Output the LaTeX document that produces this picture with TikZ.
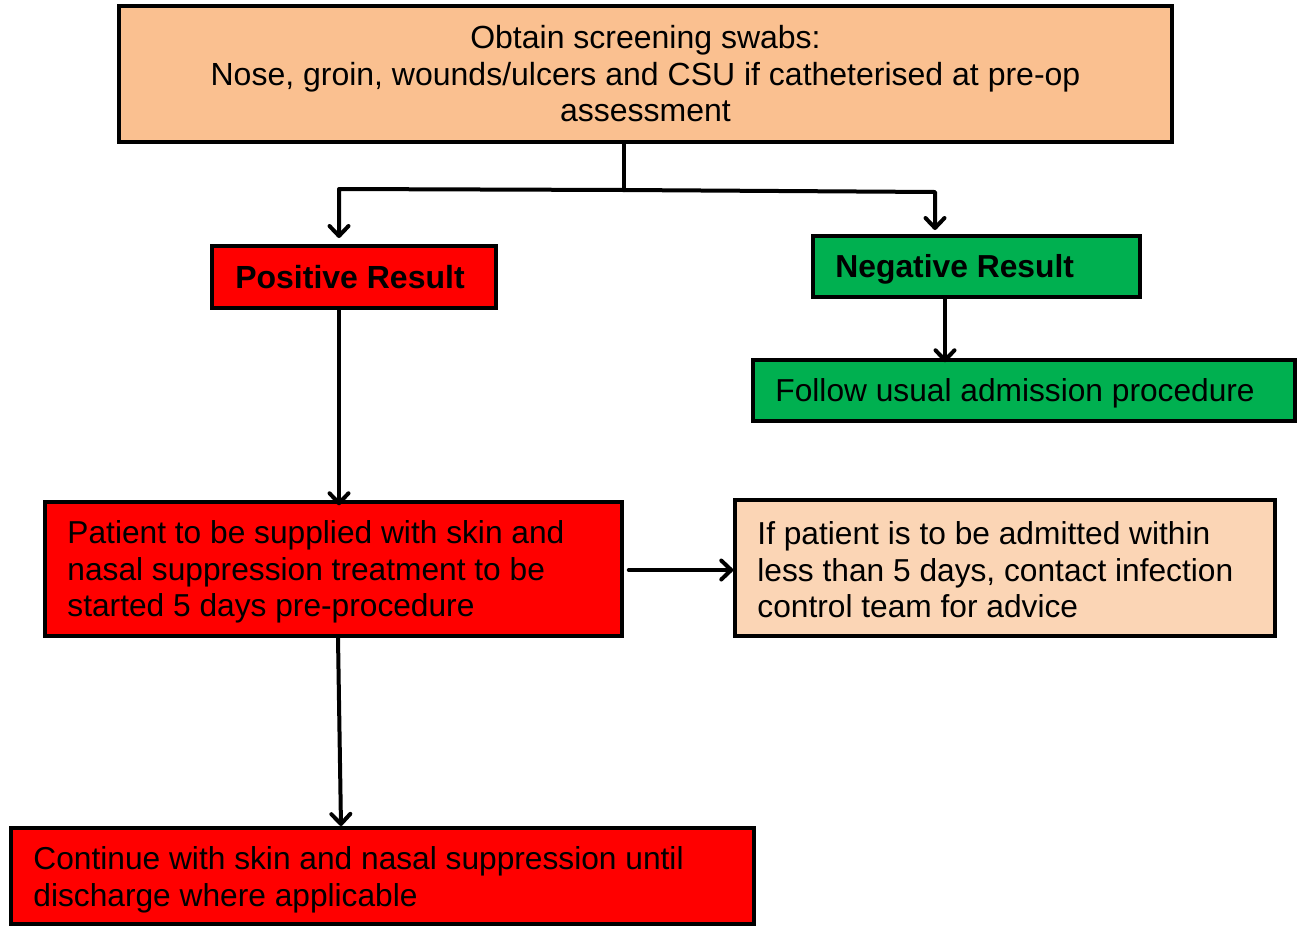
\documentclass[tikz,border=0pt]{standalone}
\usepackage{fontspec}
\setmainfont{Liberation Sans}
\usetikzlibrary{arrows.meta}
\definecolor{topfill}{RGB}{250,192,144}
\definecolor{peach}{RGB}{251,213,181}
\definecolor{boxred}{RGB}{255,0,0}
\definecolor{boxgreen}{RGB}{0,176,80}
\begin{document}
\begin{tikzpicture}[x=1pt,y=-1pt,
  box/.style={draw=black, line width=3.5pt, inner ysep=0pt, font=\fontsize{32}{36.5}\selectfont},
  txt/.style={anchor=west, align=left, inner sep=0pt, font=\fontsize{31.7}{36.5}\selectfont},
  conn/.style={line width=4pt, line cap=round, line join=round},
  arr/.style={conn, -{Straight Barb[length=10pt,width=19pt,line cap=round,line join=round]}}]
\useasboundingbox (0,0) rectangle (1299,927);
% boxes
\node[box, fill=topfill, align=center, minimum width=1053pt, minimum height=136pt] (top) at (645.5,74)
  {Obtain screening swabs:\\Nose, groin, wounds/ulcers and CSU if catheterised at pre-op\\assessment};
\node[box, fill=boxred, minimum width=284pt, minimum height=62pt, font=\fontsize{32}{36.5}\selectfont\bfseries] (pos) at (354,277) {\hspace*{-8pt}Positive Result};
\node[box, fill=boxgreen, minimum width=327pt, minimum height=61pt] (neg) at (976.5,266.5) {};
\node[txt, font=\fontsize{31.8}{36.5}\selectfont\bfseries] (negT) at ([xshift=24pt,yshift=-3pt]neg.west) {Negative Result};
\node[box, fill=boxgreen, minimum width=542pt, minimum height=61pt] (follow) at (1024,390.5) {};
\node[txt] (followT) at ([xshift=24pt,yshift=-3pt]follow.west) {Follow usual admission procedure};
\node[box, fill=boxred, minimum width=577pt, minimum height=134pt] (patient) at (333.5,569) {};
\node[txt] (patientT) at ([xshift=24pt,yshift=-3pt]patient.west)
  {Patient to be supplied with skin and\\nasal suppression treatment to be\\started 5 days pre-procedure};
\node[box, fill=peach, minimum width=540pt, minimum height=136pt] (ifp) at (1005,568) {};
\node[txt] (ifpT) at ([xshift=24pt,yshift=-2pt]ifp.west)
  {If patient is to be admitted within\\less than 5 days, contact infection\\control team for advice};
\node[box, fill=boxred, minimum width=743pt, minimum height=96pt] (cont) at (382.5,876) {};
\node[txt] (contT) at ([xshift=24pt,yshift=-4pt]cont.west)
  {Continue with skin and nasal suppression until\\discharge where applicable};
% connector coordinates
\coordinate (j) at (624,190);
\coordinate (jl) at (339,189);
\coordinate (jr) at (935,192);
\coordinate (pl) at (339,238);
\coordinate (nr) at (935,230);
\coordinate (px) at (339,0);
\coordinate (nx) at (945,0);
\coordinate (cy) at (0,570);
\coordinate (ct) at (338,0);
\coordinate (cb) at (341,826);
% connectors
\draw[conn] (top.south -| j) -- (j);
\draw[arr] (j) -- (jl) -- (pl);
\draw[arr] (j) -- (jr) -- (nr);
\draw[arr] (pos.south -| px) -- ([yshift=-5pt]patient.north -| px);
\draw[arr] (neg.south -| nx) -- ([yshift=-4pt]follow.north -| nx);
\draw[arr] ([xshift=5pt]patient.east |- cy) -- (ifp.west |- cy);
\draw[arr] (patient.south -| ct) -- (cb);
\end{tikzpicture}
\end{document}
